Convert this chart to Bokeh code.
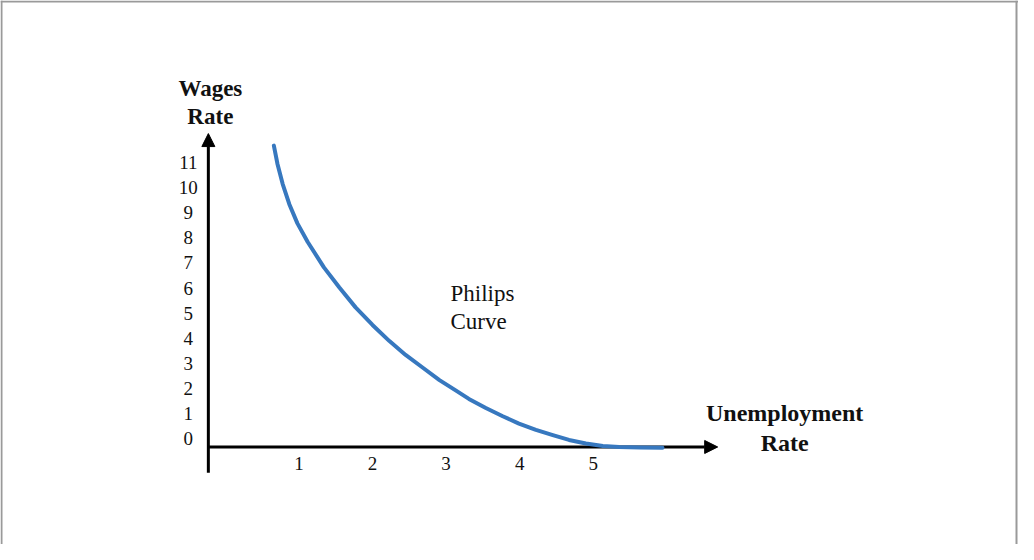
from bokeh.plotting import figure
from bokeh.models import Arrow, NormalHead, Span
from bokeh.core.properties import value
from bokeh.embed import file_html
from bokeh.resources import INLINE

# ---- data ----
unemployment = [0.66, 0.71, 0.78, 0.87, 0.98, 1.12, 1.34, 1.55, 1.77, 2.00, 2.23, 2.45,
                2.68, 2.91, 3.13, 3.31, 3.54, 3.77, 3.99, 4.22, 4.45, 4.67, 4.90, 5.13,
                5.35, 5.64, 5.94]
wages = [11.98, 11.24, 10.45, 9.65, 8.89, 8.15, 7.14, 6.34, 5.55, 4.85, 4.21, 3.66,
         3.16, 2.66, 2.25, 1.91, 1.55, 1.22, 0.93, 0.68, 0.47, 0.28, 0.14, 0.04,
         0.00, -0.02, -0.03]
x_ticks = [1, 2, 3, 4, 5]
x_tick_labels = ["1", "2", "3", "4", "5"]
y_ticks = list(range(0, 12))
y_tick_labels = [str(v) for v in y_ticks]
y_title = "Wages\nRate"
x_title = "Unemployment\nRate"
curve_label = "Philips\nCurve"

# ---- layout constants ----
W, H = 1018, 544
X_RANGE = (-3.054, 10.777)
Y_RANGE = (-3.877, 17.75)
AXIS_X = -0.23          # where the vertical axis stands
X_AXIS_END = 6.69
Y_AXIS_BOTTOM = -1.02
Y_AXIS_END = 12.46
CURVE_LABEL_POS = (3.06, 5.55)

FONT = value("Liberation Serif")
BLUE = "#3778bf"
INK = "#111111"

p = figure(width=W, height=H, x_range=X_RANGE, y_range=Y_RANGE,
           x_axis_type=None, y_axis_type=None,
           output_backend="svg", toolbar_location=None, min_border=0)
p.grid.visible = False
p.outline_line_color = None
p.background_fill_color = "white"
p.border_fill_color = "white"

# frame border (top/left/right)
upx = W / (X_RANGE[1] - X_RANGE[0])
vpx = H / (Y_RANGE[1] - Y_RANGE[0])
for loc, dim in [(X_RANGE[0] + 1 / upx, "height"), (X_RANGE[1] - 2 / upx, "height"),
                 (Y_RANGE[1] - 1 / vpx, "width")]:
    p.add_layout(Span(location=loc, dimension=dim, line_color="#9a9a9a", line_width=2))

# axes with arrowheads
p.add_layout(Arrow(end=NormalHead(size=13, fill_color="black", line_color="black"),
                   x_start=AXIS_X, y_start=0, x_end=X_AXIS_END, y_end=0,
                   line_width=3, line_color="black", level="underlay"))
p.add_layout(Arrow(end=NormalHead(size=13, fill_color="black", line_color="black"),
                   x_start=AXIS_X, y_start=Y_AXIS_BOTTOM, x_end=AXIS_X, y_end=Y_AXIS_END,
                   line_width=3, line_color="black", level="underlay"))

# curve
p.line(unemployment, wages, line_width=4, line_color=BLUE, line_join="round", line_cap="round")

# tick labels
p.text(x=[AXIS_X] * len(y_ticks), y=y_ticks, text=y_tick_labels, x_offset=-20, y_offset=-8,
       text_align="center", text_baseline="middle", text_font=FONT, text_font_size="19px",
       text_color=INK)
p.text(x=x_ticks, y=[0] * len(x_ticks), text=x_tick_labels, y_offset=17,
       text_align="center", text_baseline="middle", text_font=FONT, text_font_size="19px",
       text_color=INK)

# titles
p.text(x=[AXIS_X], y=[Y_AXIS_END], text=[y_title], x_offset=2, y_offset=-31,
       text_align="center", text_baseline="middle", text_font=FONT, text_font_size="23px",
       text_font_style="bold", text_line_height=1.1, text_color=INK)
p.text(x=[X_AXIS_END], y=[0], text=[x_title], x_offset=67, y_offset=-19,
       text_align="center", text_baseline="middle", text_font=FONT, text_font_size="24px",
       text_font_style="bold", text_line_height=1.15, text_color=INK)
p.text(x=[CURVE_LABEL_POS[0]], y=[CURVE_LABEL_POS[1]], text=[curve_label],
       text_align="left", text_baseline="middle", text_font=FONT, text_font_size="23px",
       text_line_height=1.1, text_color=INK)

open("out.html", "w").write(file_html(p, INLINE))
